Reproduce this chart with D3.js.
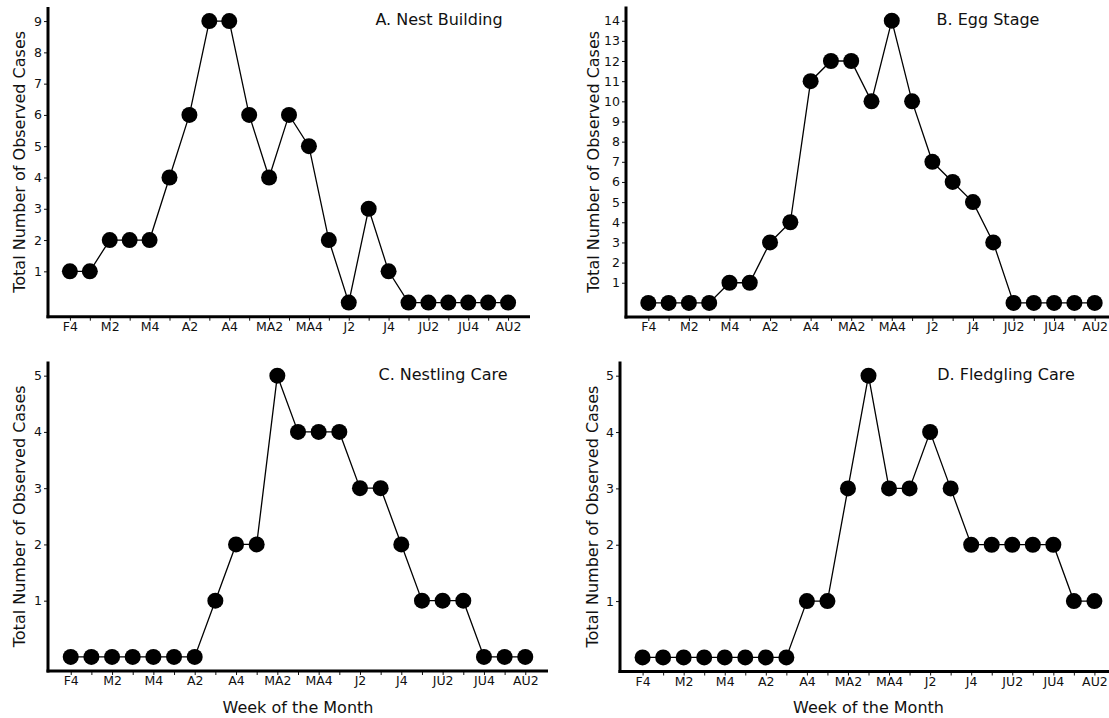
<!DOCTYPE html>
<html>
<head>
<meta charset="utf-8">
<script src="https://cdn.jsdelivr.net/npm/d3@7"></script>
<style>
  html, body { margin: 0; padding: 0; background: #fff; }
  svg { display: block; font-family: "DejaVu Sans", sans-serif; }
</style>
</head>
<body>
<svg id="chart" width="1109" height="718"></svg>
<script>
// ---- data ----
const weeks = ["F4","M1","M2","M3","M4","A1","A2","A3","A4","MA1","MA2","MA3","MA4",
               "J1","J2","J3","J4","JU1","JU2","JU3","JU4","AU1","AU2"];
const tickLabels = ["F4","M2","M4","A2","A4","MA2","MA4","J2","J4","JU2","JU4","AU2"];
const nestBuilding = [1,1,2,2,2,4,6,9,9,6,4,6,5,2,0,3,1,0,0,0,0,0,0];
const eggStage     = [0,0,0,0,1,1,3,4,11,12,12,10,14,10,7,6,5,3,0,0,0,0,0];
const nestlingCare = [0,0,0,0,0,0,0,1,2,2,5,4,4,4,3,3,2,1,1,1,0,0,0];
const fledglingCare= [0,0,0,0,0,0,0,0,1,1,3,5,3,3,4,3,2,2,2,2,2,1,1];
const panelTitles = ["A. Nest Building","B. Egg Stage","C. Nestling Care","D. Fledgling Care"];
const yLabel = "Total Number of Observed Cases";
const xLabel = "Week of the Month";

// ---- layout ----
const panels = [
  {values: nestBuilding,  title: panelTitles[0], x0: 48,  x1: 530,  y0: 7,     y1: 316.7, tx: 439,  ty: 25,  xlab: false, ylx: 19},
  {values: eggStage,      title: panelTitles[1], x0: 626, x1: 1117, y0: 6.6,   y1: 317,   tx: 988,  ty: 25,  xlab: false, ylx: 593},
  {values: nestlingCare,  title: panelTitles[2], x0: 48,  x1: 548,  y0: 361.6, y1: 671,   tx: 443,  ty: 380, xlab: true,  ylx: 19},
  {values: fledglingCare, title: panelTitles[3], x0: 620, x1: 1117, y0: 361.6, y1: 671.5, tx: 1006, ty: 380, xlab: true,  ylx: 592}
];

const svg = d3.select("#chart");
const ink = "#111";

panels.forEach(p => {
  const maxV = d3.max(p.values);
  const pad = maxV * 0.05;
  const x = d3.scalePoint().domain(weeks).range([p.x0, p.x1]).padding(1.1);
  const y = d3.scaleLinear().domain([-pad, maxV + pad]).range([p.y1, p.y0]);
  const g = svg.append("g");

  // x axis
  const xAxis = d3.axisBottom(x)
    .tickSize(4).tickPadding(1.5)
    .tickFormat(d => tickLabels.includes(d) ? d : "");
  const gx = g.append("g").attr("transform", `translate(0,${p.y1})`).call(xAxis);
  gx.select(".domain").remove();
  gx.selectAll(".tick line").attr("stroke", ink).attr("stroke-width", 1);
  gx.selectAll(".tick text").attr("fill", ink).style("font-size", "12.5px")
    .style("font-family", "DejaVu Sans");

  // y axis
  const yTicks = d3.range(1, maxV + 1);
  const yAxis = d3.axisLeft(y).tickValues(yTicks).tickSize(4).tickPadding(2)
    .tickFormat(d3.format("d"));
  const gy = g.append("g").attr("transform", `translate(${p.x0},0)`).call(yAxis);
  gy.select(".domain").remove();
  gy.selectAll(".tick line").attr("stroke", ink).attr("stroke-width", 1);
  gy.selectAll(".tick text").attr("fill", ink).style("font-size", "12.5px")
    .style("font-family", "DejaVu Sans");

  // spines
  g.append("line").attr("x1", p.x0).attr("x2", p.x0).attr("y1", p.y0).attr("y2", p.y1 + 1.5)
    .attr("stroke", "#000").attr("stroke-width", 3);
  g.append("line").attr("x1", p.x0 - 1.5).attr("x2", p.x1).attr("y1", p.y1).attr("y2", p.y1)
    .attr("stroke", "#000").attr("stroke-width", 3);

  // line
  const line = d3.line().x((d, i) => x(weeks[i])).y(d => y(d));
  g.append("path").datum(p.values).attr("d", line)
    .attr("fill", "none").attr("stroke", "#000").attr("stroke-width", 1.3);

  // markers
  g.selectAll("circle.pt").data(p.values).join("circle")
    .attr("class", "pt")
    .attr("cx", (d, i) => x(weeks[i])).attr("cy", d => y(d)).attr("r", 8)
    .attr("fill", "#000");

  // title
  g.append("text").attr("x", p.tx).attr("y", p.ty).attr("text-anchor", "middle")
    .attr("fill", ink).style("font-size", "16px").text(p.title);

  // y label
  const yc = (p.y0 + p.y1) / 2;
  g.append("text").attr("transform", `translate(${p.ylx + 5.5},${yc}) rotate(-90)`)
    .attr("text-anchor", "middle").attr("fill", ink).style("font-size", "16px").text(yLabel);

  // x label
  if (p.xlab) {
    g.append("text").attr("x", (p.x0 + p.x1) / 2).attr("y", 713).attr("text-anchor", "middle")
      .attr("fill", ink).style("font-size", "16px").text(xLabel);
  }
});
</script>
</body>
</html>
